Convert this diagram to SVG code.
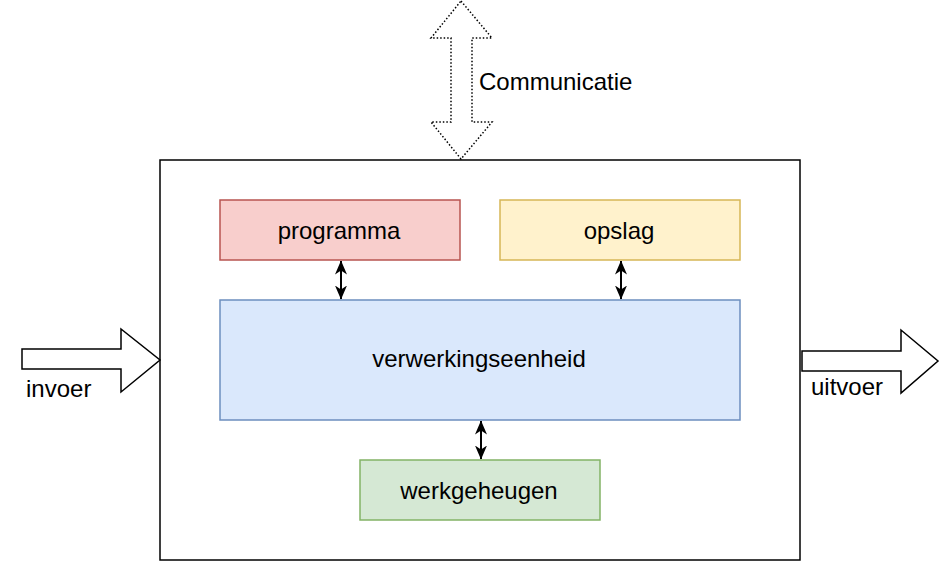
<svg xmlns="http://www.w3.org/2000/svg" width="940" height="562" viewBox="0 0 940 562">
<defs>
<marker id="ah" viewBox="0 0 14 12" refX="13.5" refY="6" markerWidth="14" markerHeight="12" markerUnits="userSpaceOnUse" orient="auto-start-reverse">
<path d="M0,0 L14,6 L0,12 L4,6 Z" fill="#000"/>
</marker>
</defs>
<style>
text{font-family:"Liberation Sans",Arial,Helvetica,sans-serif;font-size:24px;fill:#000}
.c{text-anchor:middle}
.big{fill:#fff;stroke:#000;stroke-width:1.5}
.conn{stroke:#000;stroke-width:2;fill:none;marker-start:url(#ah);marker-end:url(#ah)}
</style>
<rect x="0" y="0" width="940" height="562" fill="#fff"/>
<g id="communicatie">
<polygon points="461,1 492,38 472,38 472,122 492,122 461,159 431,122 451,122 451,38 431,38" fill="#fff" stroke="#000" stroke-width="1.5" stroke-dasharray="1.5 2"/>
<text x="479" y="90">Communicatie</text>
</g>
<g id="systeem">
<rect x="160" y="160" width="640" height="400" fill="#fff" stroke="#000" stroke-width="1.5"/>
</g>
<g id="invoer">
<polygon class="big" points="22,349 121,349 121,329 160,360 121,392 121,369 22,369"/>
<text x="26" y="397">invoer</text>
</g>
<g id="uitvoer">
<polygon class="big" points="802,351 901,351 901,330 938,361 901,393 901,371 802,371"/>
<text x="811" y="395">uitvoer</text>
</g>
<g id="programma">
<rect x="220" y="200" width="240" height="60" fill="#f8cecc" stroke="#b85450" stroke-width="1.5"/>
<text class="c" x="339" y="239">programma</text>
</g>
<g id="opslag">
<rect x="500" y="200" width="240" height="60" fill="#fff2cc" stroke="#d6b656" stroke-width="1.5"/>
<text class="c" x="619" y="239">opslag</text>
</g>
<g id="verwerkingseenheid">
<rect x="220" y="300" width="520" height="120" fill="#dae8fc" stroke="#6c8ebf" stroke-width="1.5"/>
<text class="c" x="479" y="367">verwerkingseenheid</text>
</g>
<g id="werkgeheugen">
<rect x="360" y="460" width="240" height="60" fill="#d5e8d4" stroke="#82b366" stroke-width="1.5"/>
<text class="c" x="479" y="499">werkgeheugen</text>
</g>
<g id="connectors">
<line class="conn" x1="341" y1="261" x2="341" y2="299"/>
<line class="conn" x1="621" y1="261" x2="621" y2="299"/>
<line class="conn" x1="481" y1="421" x2="481" y2="459"/>
</g>
</svg>
